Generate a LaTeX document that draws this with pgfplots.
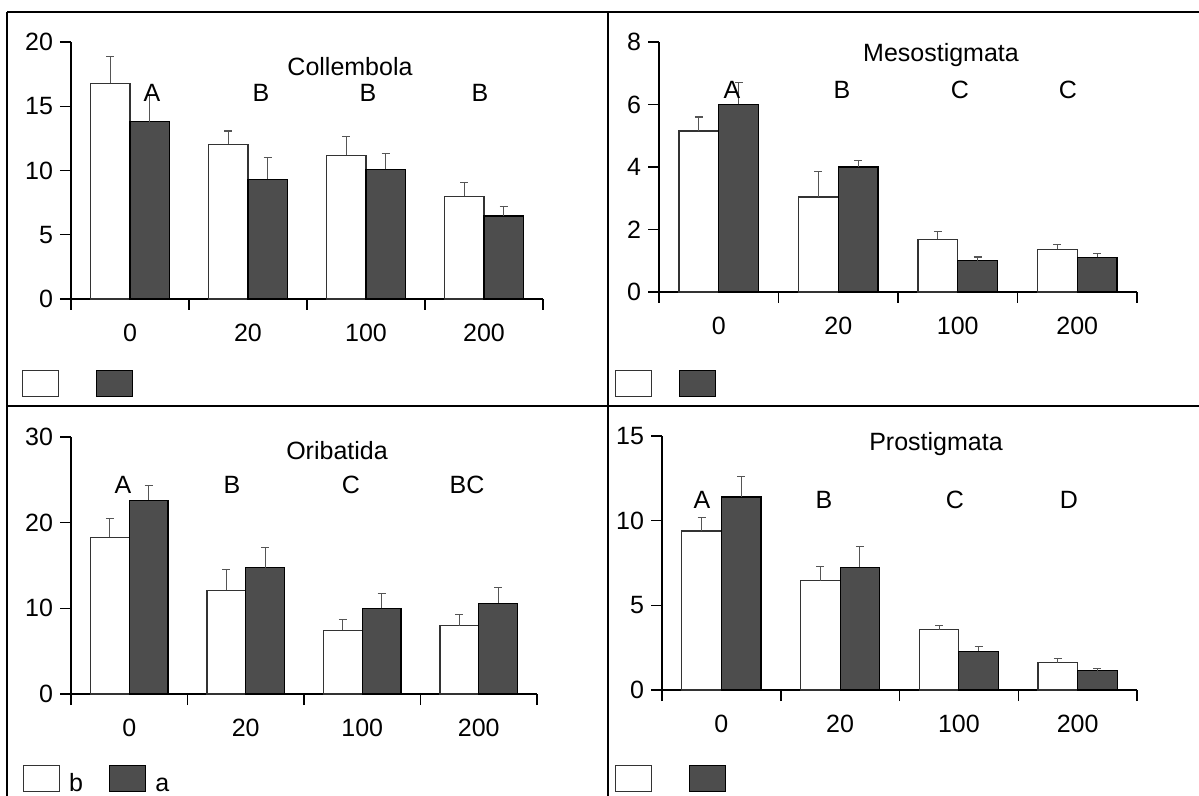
\documentclass[border=0pt]{standalone}
\usepackage{fontspec}
\setmainfont{Liberation Sans}
\usepackage{pgfplots}
\pgfplotsset{compat=1.18}
\definecolor{darkbar}{HTML}{4D4D4D}
\definecolor{errgray}{HTML}{555555}
\pgfplotsset{
  panel/.style={
    scale only axis, anchor=south west,
    xmin=-0.5, xmax=3.5, ymin=0,
    axis lines*=left,
    ybar, bar width=0.3333,
    enlargelimits=false, clip=false,
    xtick={-0.5,0.5,1.5,2.5,3.5}, xticklabels={},
    extra x ticks={0,1,2,3}, extra x tick labels={0,20,100,200},
    extra x tick style={tick style={draw=none}, xticklabel style={anchor=center, yshift=-11.5pt}},
    tick align=outside, major tick length=5.5pt,
    tick style={black, line width=0.75pt},
    axis line style={black, line width=0.75pt},
    font=\fontsize{12.5}{15}\selectfont,
    /pgf/number format/assume math mode=true,
    error bars/y dir=plus, error bars/y explicit,
    error bars/error bar style={errgray, line width=0.55pt},
    error bars/error mark options={rotate=90, mark size=2pt, errgray, line width=0.55pt},
    legend image code/.code={\draw[#1] (0pt,0pt) rectangle (18pt,13pt);},
    legend columns=2,
    legend style={draw=none, fill=none, inner sep=0pt, outer sep=0pt, anchor=west,
      nodes={inner sep=0pt, anchor=base west},
      /tikz/every odd column/.style={column sep=4.5pt},
      /tikz/every even column/.style={column sep=13pt}},
  },
  wbar/.style={fill=white, draw=black!80, line width=0.6pt, bar shift=-0.16667},
  dbar/.style={fill=darkbar, draw=black, line width=0.6pt, bar shift=0.16667},
}
\begin{document}
\begin{tikzpicture}
\useasboundingbox (0,0) rectangle (599.5pt,-398pt);
% panel borders
\begin{scope}[x=0.5pt,y=-0.5pt, line width=0.75pt]
\draw[black] (7,12) -- (1199,12);
\draw[black] (7,12) -- (7,796);
\draw[black] (608,12) -- (608,796);
\draw[black] (7,406) -- (1199,406);
\end{scope}

% Collembola
\begin{axis}[panel, at={(35.5pt,-149.5pt)}, width=236pt, height=128.5pt,
  ymax=20, ytick={0,5,10,15,20},
  legend style={at={(-0.1038,-0.3346)}}]
\addplot[wbar] coordinates {(0,16.78) +- (0,2.1) (1,12.03) +- (0,1.04) (2,11.18) +- (0,1.45) (3,7.99) +- (0,1.06)};
\addplot[dbar] coordinates {(0,13.8) +- (0,2.05) (1,9.31) +- (0,1.69) (2,10.09) +- (0,1.22) (3,6.46) +- (0,0.72)};
\addlegendentry{\mbox{}}
\addlegendentry{\mbox{}}
\end{axis}

% Mesostigmata
\begin{axis}[panel, at={(329.5pt,-146pt)}, width=239pt, height=125pt,
  ymax=8, ytick={0,2,4,6,8},
  legend style={at={(-0.0921,-0.372)}, /tikz/every even column/.style={column sep=7.75pt}}]
\addplot[wbar] coordinates {(0,5.15) +- (0,0.45) (1,3.04) +- (0,0.82) (2,1.68) +- (0,0.27) (3,1.36) +- (0,0.16)};
\addplot[dbar] coordinates {(0,6.0) +- (0,0.69) (1,4.0) +- (0,0.22) (2,1.0) +- (0,0.12) (3,1.11) +- (0,0.11)};
\addlegendentry{\mbox{}}
\addlegendentry{\mbox{}}
\end{axis}

% Oribatida
\begin{axis}[panel, at={(35.5pt,-347pt)}, width=233pt, height=128.5pt,
  ymax=30, ytick={0,10,20,30},
  legend style={at={(-0.103,-0.3327)}}]
\addplot[wbar] coordinates {(0,18.27) +- (0,2.21) (1,12.09) +- (0,2.48) (2,7.42) +- (0,1.24) (3,7.97) +- (0,1.32)};
\addplot[dbar] coordinates {(0,22.62) +- (0,1.71) (1,14.73) +- (0,2.33) (2,9.99) +- (0,1.75) (3,10.61) +- (0,1.79)};
\addlegendentry{b}
\addlegendentry{a}
\end{axis}

% Prostigmata
\begin{axis}[panel, at={(331pt,-345pt)}, width=237.5pt, height=127pt,
  ymax=15, ytick={0,5,10,15},
  legend style={at={(-0.0989,-0.354)}}]
\addplot[wbar] coordinates {(0,9.39) +- (0,0.79) (1,6.45) +- (0,0.84) (2,3.56) +- (0,0.27) (3,1.61) +- (0,0.24)};
\addplot[dbar] coordinates {(0,11.4) +- (0,1.22) (1,7.25) +- (0,1.2) (2,2.28) +- (0,0.27) (3,1.14) +- (0,0.14)};
\addlegendentry{\mbox{}}
\addlegendentry{\mbox{}}
\end{axis}

% titles and letters
\begin{scope}[x=0.5pt,y=-0.5pt, every node/.style={font=\fontsize{12.5}{15}\selectfont, inner sep=0pt, anchor=base}]
\node at (350,76) {Collembola};
\node at (152,102) {A}; \node at (261,102) {B}; \node at (368,102) {B}; \node at (480,102) {B};
\node at (941,62) {Mesostigmata};
\node at (732,99) {A}; \node at (842,99) {B}; \node at (960,99) {C}; \node at (1068,99) {C};
\node at (337,459) {Oribatida};
\node at (123,494) {A}; \node at (232,494) {B}; \node at (351,494) {C}; \node at (467,494) {BC};
\node at (936,451) {Prostigmata};
\node at (702,508) {A}; \node at (824,508) {B}; \node at (955,508) {C}; \node at (1069,508) {D};
\end{scope}
\end{tikzpicture}
\end{document}
